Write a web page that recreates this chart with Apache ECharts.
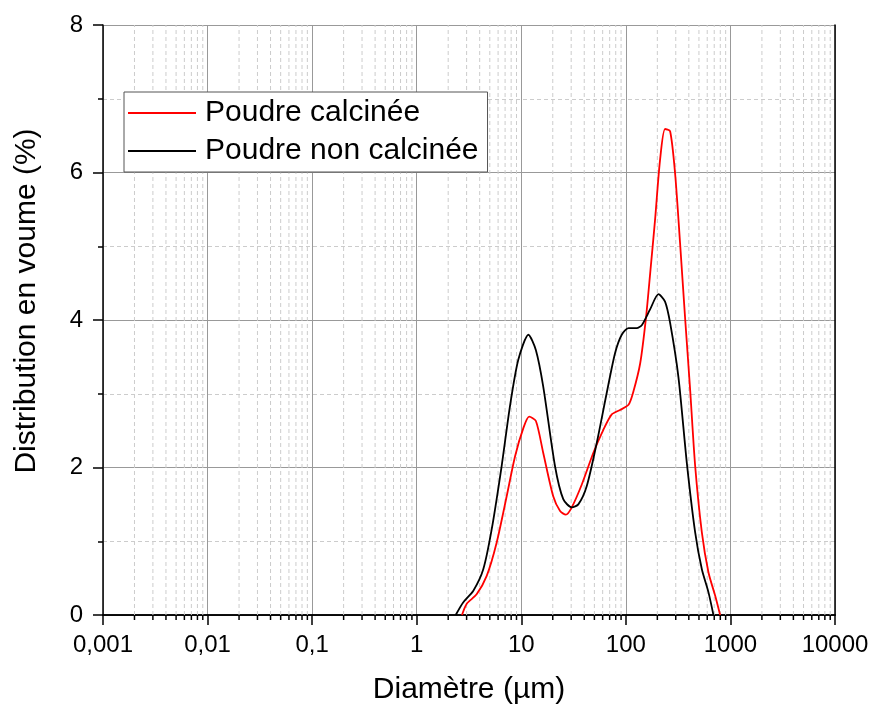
<!DOCTYPE html>
<html>
<head>
<meta charset="utf-8">
<script src="https://cdn.jsdelivr.net/npm/echarts@6/dist/echarts.min.js"></script>
<style>
html,body{margin:0;padding:0;background:#fff;}
#chart{width:871px;height:706px;}
</style>
</head>
<body>
<div id="chart"></div>
<script>
// Poudre calcinée (red)
var diamCalc = [2.71,3.00,3.74,4.67,5.81,7.25,8.71,10.5,11.9,13.8,16.2,20.2,23.5,26.7,30.4,37.9,48.9,60.9,73.3,88.0,106,117,137,156,172,190,212,237,265,296,330,368,412,460,533,616,715,797];
var volCalc  = [0,0.15,0.28,0.53,0.98,1.61,2.15,2.54,2.69,2.63,2.20,1.61,1.41,1.36,1.46,1.77,2.20,2.51,2.72,2.78,2.85,3.01,3.41,4.04,4.68,5.35,6.16,6.59,6.56,5.98,5.04,4.04,3.05,2.02,1.12,0.58,0.26,0];
// Poudre non calcinée (black)
var diamNon = [2.36,2.78,3.48,4.33,5.21,6.49,7.79,9.36,11.7,13.8,16.2,21.0,25.2,30.4,35.1,42.3,52.6,65.6,78.8,91.3,106,127,142,170,205,237,265,318,383,460,533,616,688];
var volNon  = [0,0.17,0.33,0.62,1.16,2.02,2.83,3.46,3.80,3.59,3.10,2.02,1.57,1.46,1.50,1.75,2.33,3.01,3.55,3.80,3.89,3.89,3.93,4.14,4.35,4.25,3.96,3.23,2.06,1.12,0.62,0.31,0];

var seriesNames = ['Poudre calcinée', 'Poudre non calcinée'];
var decades = [0.001, 0.01, 0.1, 1, 10, 100, 1000];
var minorMultipliers = [2,3,4,5,6,7,8,9];

function zip(a, b) { return a.map(function (v, i) { return [v, b[i]]; }); }
var minorX = [];
decades.forEach(function (d) {
  minorMultipliers.forEach(function (m) { minorX.push([+(d * m).toPrecision(3)]); });
});

var FONT = '"Liberation Sans", Arial, sans-serif';
var chart = echarts.init(document.getElementById('chart'));
chart.setOption({
  animation: false,
  backgroundColor: '#fff',
  grid: { left: 103, right: 36, top: 25, bottom: 91, containLabel: false, outerBoundsMode: 'none' },
  legend: {
    data: [{ name: seriesNames[0], icon: 'rect' }, { name: seriesNames[1], icon: 'rect' }],
    orient: 'vertical',
    left: 124, top: 92,
    padding: [6, 9, 6, 4],
    itemWidth: 68, itemHeight: 2, itemGap: 8,
    backgroundColor: '#fff',
    borderColor: '#555', borderWidth: 1, borderRadius: 0,
    textStyle: { fontFamily: FONT, fontSize: 30, color: '#000', padding: [0, 0, 0, 4], lineHeight: 30 }
  },
  xAxis: [{
    type: 'log', logBase: 10, min: 0.001, max: 10000, splitNumber: 7,
    name: 'Diamètre (µm)', nameLocation: 'middle', nameGap: 60,
    nameTextStyle: { fontFamily: FONT, fontSize: 30, color: '#000' },
    axisLine: { lineStyle: { color: '#000', width: 1.5 } },
    axisTick: { show: true, inside: false, length: 10, lineStyle: { color: '#000', width: 1.5 } },
    minorTick: { show: false },
    axisLabel: { fontFamily: FONT, fontSize: 24, color: '#000', margin: 18,
      formatter: function (v) { return String(parseFloat(Number(v).toPrecision(4))).replace('.', ','); } },
    splitLine: { show: true, lineStyle: { color: '#999', width: 1 } }
  }, {
    type: 'log', logBase: 10, min: 0.001, max: 10000, position: 'top',
    axisLine: { show: true, lineStyle: { color: '#000', width: 1.5 } },
    axisTick: { show: false }, axisLabel: { show: false }, splitLine: { show: false }
  }],
  yAxis: [{
    type: 'value', min: 0, max: 8, interval: 2,
    name: 'Distribution en voume (%)', nameLocation: 'middle', nameGap: 61,
    nameTextStyle: { fontFamily: FONT, fontSize: 30, color: '#000', padding: [0, 0, 0, 38] },
    axisLine: { show: true, lineStyle: { color: '#000', width: 1.5 } },
    axisTick: { show: true, inside: false, length: 10, lineStyle: { color: '#000', width: 1.5 } },
    minorTick: { show: true, splitNumber: 2, length: 5, lineStyle: { color: '#000', width: 1.5 } },
    axisLabel: { fontFamily: FONT, fontSize: 24, color: '#000', margin: 20 },
    splitLine: { show: true, lineStyle: { color: '#999', width: 1 } },
    minorSplitLine: { show: true, lineStyle: { color: '#ccc', width: 1, type: [4, 3] } }
  }, {
    type: 'value', min: 0, max: 8, position: 'right',
    axisLine: { show: true, lineStyle: { color: '#000', width: 1.5 } },
    axisTick: { show: false }, axisLabel: { show: false }, splitLine: { show: false }
  }],
  series: [{
    type: 'custom',
    name: 'minorGrid',
    xAxisIndex: 0, yAxisIndex: 0,
    z: 1,
    silent: true,
    data: minorX,
    renderItem: function (params, api) {
      var v = api.value(0);
      var p0 = api.coord([v, 0]);
      var p1 = api.coord([v, 8]);
      return {
        type: 'group',
        children: [{
          type: 'line',
          shape: { x1: p0[0], y1: p0[1], x2: p1[0], y2: p1[1] },
          style: { stroke: '#ccc', lineWidth: 1, lineDash: [4, 3] }
        }, {
          type: 'line',
          shape: { x1: p0[0], y1: p0[1], x2: p0[0], y2: p0[1] + 5 },
          style: { stroke: '#000', lineWidth: 1.5 }
        }]
      };
    }
  }, {
    name: seriesNames[0], type: 'line', xAxisIndex: 0, yAxisIndex: 0,
    data: zip(diamCalc, volCalc), symbol: 'none', smooth: 0.25, z: 3,
    lineStyle: { color: '#ff0000', width: 1.8 }, itemStyle: { color: '#ff0000' }
  }, {
    name: seriesNames[1], type: 'line', xAxisIndex: 0, yAxisIndex: 0,
    data: zip(diamNon, volNon), symbol: 'none', smooth: 0.25, z: 4,
    lineStyle: { color: '#000', width: 1.8 }, itemStyle: { color: '#000' }
  }]
});
</script>
</body>
</html>
